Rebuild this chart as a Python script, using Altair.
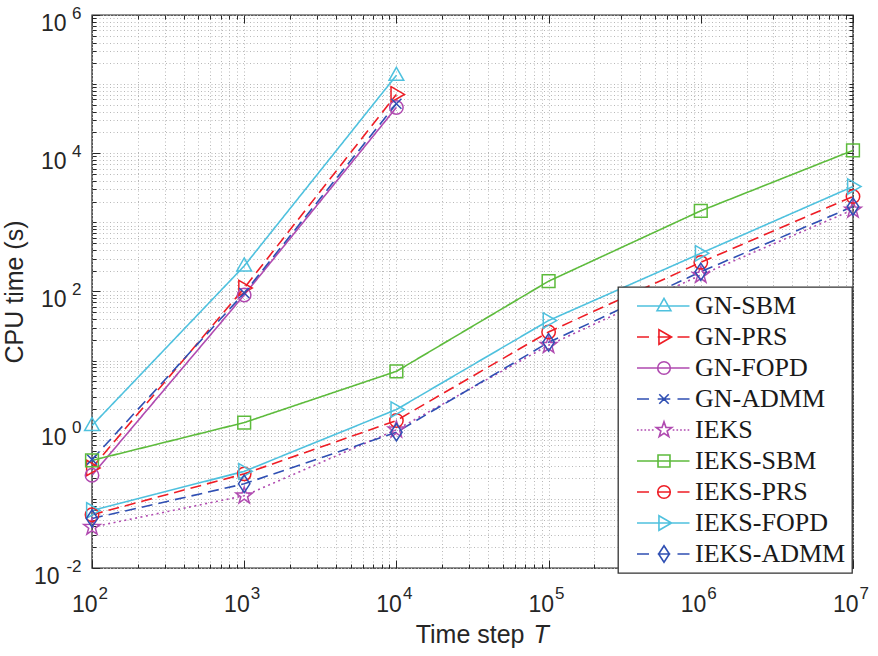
import math
import altair as alt
import pandas as pd

# ---------------- data ----------------
T_GN = [1e2, 1e3, 1e4]
T_IEKS = [1e2, 1e3, 1e4, 1e5, 1e6, 1e7]

GN_SBM = [1.15, 234, 1.34e5]
GN_PRS = [0.28, 112, 7.1e4]
GN_FOPD = [0.22, 89, 4.6e4]
GN_ADMM = [0.37, 95, 5.2e4]
IEKS = [0.039, 0.111, 1.0, 16.7, 173, 1520]
IEKS_SBM = [0.36, 1.27, 7.0, 141, 1470, 1.1e4]
IEKS_PRS = [0.059, 0.23, 1.36, 26, 264, 2370]
IEKS_FOPD = [0.068, 0.25, 1.96, 38, 357, 3300]
IEKS_ADMM = [0.052, 0.165, 0.92, 18.4, 193, 1695]

SERIES = ["GN-SBM", "GN-PRS", "GN-FOPD", "GN-ADMM", "IEKS",
          "IEKS-SBM", "IEKS-PRS", "IEKS-FOPD", "IEKS-ADMM"]
X_OF = [T_GN, T_GN, T_GN, T_GN, T_IEKS, T_IEKS, T_IEKS, T_IEKS, T_IEKS]
Y_OF = [GN_SBM, GN_PRS, GN_FOPD, GN_ADMM, IEKS, IEKS_SBM, IEKS_PRS, IEKS_FOPD, IEKS_ADMM]

CYAN, RED, MAG, BLUE, GREEN = "#4FC1DE", "#EE1D25", "#B04AB0", "#2F4FB3", "#5DBB3C"
COLORS = [CYAN, RED, MAG, BLUE, MAG, GREEN, RED, CYAN, BLUE]
STYLES = ["solid", "dash", "solid", "dash", "dot", "solid", "dash", "solid", "dash"]
MARKERS = ["tri_up", "tri_right", "circle", "x", "star", "square", "circle", "tri_right", "diamond"]
DASH_OF = {"solid": [1, 0], "dash": [11, 6], "dot": [2, 3.5]}

rows = []
for name, xs_, ys_ in zip(SERIES, X_OF, Y_OF):
    for t, v in zip(xs_, ys_):
        rows.append({"series": name, "T": t, "time": v})
df = pd.DataFrame(rows)

# ---------------- marker shapes (unit coordinates) ----------------
def _star():
    pts = []
    for k in range(10):
        r = 1.3 if k % 2 == 0 else 0.52
        ang = -math.pi / 2 + k * math.pi / 5
        pts.append((r * math.cos(ang), r * math.sin(ang)))
    return pts

SHAPE_PTS = {
    "tri_up": [(0, -1.2), (1.1, 0.75), (-1.1, 0.75)],
    "tri_right": [(-0.8, -1.15), (1.2, 0), (-0.8, 1.15)],
    "square": [(-0.95, -0.95), (0.95, -0.95), (0.95, 0.95), (-0.95, 0.95)],
    "diamond": [(0, -1.3), (0.85, 0), (0, 1.3), (-0.85, 0)],
    "star": _star(),
}

def marker(kind, cx=0.0, k=1.0):
    if kind == "circle":
        return (f"M{cx - k:.3f},0A{k:.3f},{k:.3f},0,1,1,{cx + k:.3f},0"
                f"A{k:.3f},{k:.3f},0,1,1,{cx - k:.3f},0Z")
    if kind == "x":
        d = 0.75 * k
        return (f"M{cx - d:.3f},{-d:.3f}L{cx + d:.3f},{d:.3f}"
                f"M{cx - d:.3f},{d:.3f}L{cx + d:.3f},{-d:.3f}")
    pts = SHAPE_PTS[kind]
    return "M" + "L".join(f"{x * k + cx:.3f},{y * k:.3f}" for x, y in pts) + "Z"

def legend_symbol(kind, style):
    a, c, b = 0.0, 4.5, 8.75
    k = 1.05
    if style == "solid":
        line = f"M{a},0H{b}"
    elif style == "dash":
        line = f"M{a},0H{a + 2.0:.3f}M{c - k:.3f},0H{c + k:.3f}M{b - 2.0:.3f},0H{b}"
    else:
        segs = []
        x = a
        while x < c - 1.45:
            segs.append(f"M{x:.3f},0H{x + 0.28:.3f}")
            x += 0.62
        x = c + 1.45
        while x < b:
            segs.append(f"M{x:.3f},0H{min(x + 0.28, b):.3f}")
            x += 0.62
        line = "".join(segs)
    return line + marker(kind, c, k)

PLOT_SHAPES = [marker(k) for k in MARKERS]
LEGEND_SHAPES = [legend_symbol(k, s) for k, s in zip(MARKERS, STYLES)]

# ---------------- axes ----------------
W, H = 761, 553
X_VALS = [m * 10 ** e for e in range(2, 7) for m in range(1, 10)] + [1e7]
Y_VALS = [m * 10.0 ** e for e in range(-2, 6) for m in range(1, 10)] + [1e6]
X_DEC = [1e2, 1e3, 1e4, 1e5, 1e6, 1e7]
Y_DEC = [1e-2, 1, 1e2, 1e4, 1e6]
LOG10 = "log(datum.value)/LN10"
ISDEC = f"abs({LOG10} - round({LOG10})) < 0.001"
ISEVEN = f"({ISDEC}) && (abs(round({LOG10})) % 2 == 0)"
EXP = f"'' + round({LOG10})"
TXT = "#262626"
SANS = "Liberation Sans"

common = dict(labelFont=SANS, labelColor=TXT, labelOverlap=False, labelFlush=False,
              labelBound=False, domain=False)

ax_x_main = alt.Axis(orient="bottom", values=X_VALS, grid=True, gridColor="#b8b8b8",
                     gridDash=[1, 2.5], gridWidth=1, ticks=False, tickSize=0,
                     labelExpr=f"{ISDEC} ? '10' : ''", labelAlign="right", labelOffset=5,
                     labelBaseline="alphabetic", labelPadding=43, labelFontSize=23,
                     title="Time step", titleFont=SANS, titleFontSize=25,
                     titleFontWeight="normal", titleColor=TXT, titleAlign="right",
                     titleBaseline="alphabetic", titleX=432, titleY=74, **common)
ax_y_main = alt.Axis(orient="left", values=Y_VALS, grid=True, gridColor="#b8b8b8",
                     gridDash=[1, 2.5], gridWidth=1, ticks=False, tickSize=0,
                     labelExpr=f"{ISEVEN} ? '10' : ''", labelAlign="right", labelOffset=8,
                     labelBaseline="middle",
                     labelPadding={"condition": {"test": "datum.value < 0.1", "value": 33}, "value": 26},
                     labelFontSize=23,
                     title="CPU time (s)", titleFont=SANS, titleFontSize=25,
                     titleFontWeight="normal", titleColor=TXT, titleAlign="center",
                     titleBaseline="middle", titleX=-78, titleY=H / 2, **common)
ax_x_exp = alt.Axis(orient="bottom", values=X_DEC, grid=False, ticks=False, tickSize=0,
                    labelExpr=EXP, labelAlign="left", labelOffset=6,
                    labelBaseline="alphabetic", labelPadding=30, labelFontSize=17,
                    title="T", titleFont=SANS, titleFontSize=25, titleFontWeight="normal",
                    titleFontStyle="italic", titleColor=TXT, titleAlign="left",
                    titleBaseline="alphabetic", titleX=441, titleY=74, **common)
ax_y_exp = alt.Axis(orient="left", values=Y_DEC, grid=False, ticks=False, tickSize=0,
                    labelExpr=EXP, labelAlign="right", labelOffset=-2,
                    labelBaseline="middle", labelPadding=11, labelFontSize=17,
                    title=None, **common)

def tick_axis(orient, vals, off, major):
    return alt.Axis(orient=orient, offset=off, values=vals, grid=False, labels=False,
                    domain=False, ticks=True, tickColor=TXT, tickWidth=1,
                    tickSize={"condition": {"test": major, "value": 8}, "value": 4},
                    title=None)

XS = alt.Scale(type="log", domain=[1e2, 1e7], nice=False)
YS = alt.Scale(type="log", domain=[1e-2, 1e6], nice=False)
color_scale = alt.Scale(domain=SERIES, range=COLORS)

base = alt.Chart(df)

lines = base.mark_line(strokeWidth=1.6, clip=True).encode(
    x=alt.X("T:Q", scale=XS, axis=ax_x_main),
    y=alt.Y("time:Q", scale=YS, axis=ax_y_main),
    color=alt.Color("series:N", scale=color_scale, legend=None),
    strokeDash=alt.StrokeDash("series:N",
                              scale=alt.Scale(domain=SERIES, range=[DASH_OF[s] for s in STYLES]),
                              legend=None),
)

points = base.mark_point(filled=False, size=180, strokeWidth=1.5, opacity=1).encode(
    x=alt.X("T:Q", scale=XS, axis=ax_x_exp),
    y=alt.Y("time:Q", scale=YS, axis=ax_y_exp),
    color=alt.Color("series:N", scale=color_scale, legend=None),
    shape=alt.Shape("series:N", scale=alt.Scale(domain=SERIES, range=PLOT_SHAPES), legend=None),
)

ticks_a = base.transform_filter("false").mark_point().encode(
    x=alt.X("T:Q", scale=XS, axis=tick_axis("top", X_VALS, -H, ISDEC)),
    y=alt.Y("time:Q", scale=YS, axis=tick_axis("right", Y_VALS, -W, ISEVEN)),
)
ticks_b = base.transform_filter("false").mark_point().encode(
    x=alt.X("T:Q", scale=XS, axis=tick_axis("bottom", X_VALS, -H, ISDEC)),
    y=alt.Y("time:Q", scale=YS, axis=tick_axis("left", Y_VALS, -W, ISEVEN)),
)

leg = dict(title=None, orient="none", legendX=526, legendY=272,
           labelFont="Liberation Serif", labelFontSize=26, labelColor="#1a1a1a",
           labelLimit=400, labelOffset=45, rowPadding=5, padding=6,
           symbolSize=144, symbolStrokeWidth=1.6, symbolFillColor="transparent",
           fillColor="white", strokeColor="#333333")

legend_layer = base.transform_filter("false").mark_point(
    filled=False, size=144, strokeWidth=1.6, opacity=1).encode(
    stroke=alt.Stroke("series:N", scale=alt.Scale(domain=SERIES, range=COLORS),
                      legend=alt.Legend(**leg)),
    shape=alt.Shape("series:N", scale=alt.Scale(domain=SERIES, range=LEGEND_SHAPES),
                    legend=alt.Legend(**leg)),
)

chart = alt.layer(lines, points, ticks_a, ticks_b, legend_layer).resolve_scale(
    shape="independent", stroke="independent"
).resolve_axis(
    x="independent", y="independent"
).properties(
    width=W, height=H,
    padding={"left": 92, "top": 15, "right": 25, "bottom": 88},
    autosize=alt.AutoSizeParams(type="none"),
    background="white",
).configure_view(
    stroke="#262626", strokeWidth=1.4
).configure_legend(
    strokeWidth=1.3
)

chart.save("out.html", embed_options={"renderer": "svg", "actions": False})
